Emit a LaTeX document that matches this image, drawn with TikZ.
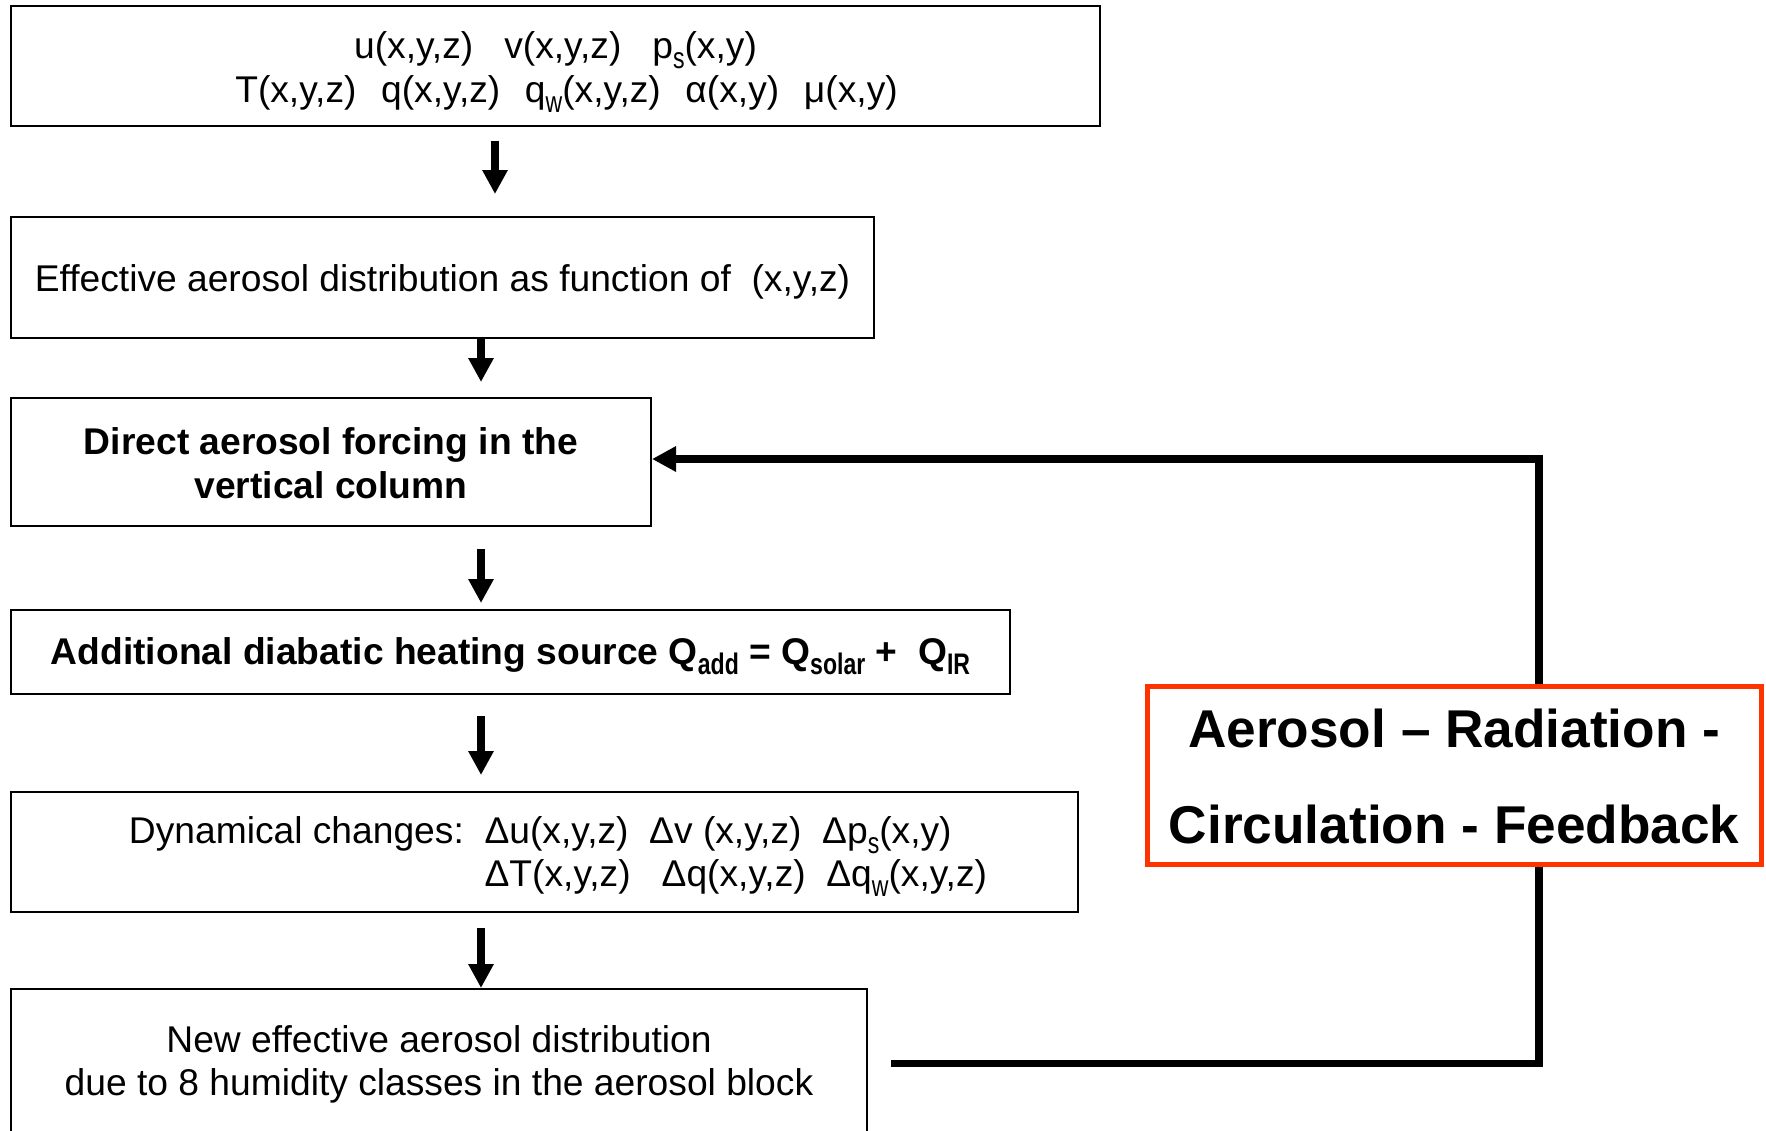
\documentclass[tikz,border=0pt]{standalone}
\usepackage{fontspec}
\setmainfont{Liberation Sans}
\usepackage{xcolor}
\usepackage{graphicx}
\usetikzlibrary{arrows.meta}

\definecolor{loopred}{RGB}{255,51,0}
\newcommand{\subtxt}[1]{\raisebox{-5pt}[0pt][0pt]{\scalebox{0.62}[0.8]{#1}}}
\newcommand{\mainsize}{\fontsize{18.6pt}{21.75pt}\selectfont}
\newcommand{\loopsize}{\fontsize{26.6pt}{48pt}\selectfont}
\newcommand{\gap}{~~\hspace{2pt}}

\begin{document}
\begin{tikzpicture}[
  x=0.5pt, y=-0.5pt,
  box/.style={draw, line width=1pt, fill=white, inner sep=0pt, align=center, font=\mainsize},
  boldbox/.style={box, font=\mainsize\bfseries},
  flow/.style={line width=3.75pt, -{Triangle[width=12pt,length=12pt]}},
  loopbox/.style={draw=loopred, line width=2.5pt, fill=white, inner sep=0pt, align=center, font=\loopsize\bfseries},
]
\useasboundingbox (0,0) rectangle (1766,1130);
\clip (0,0) rectangle (1766,1130);

% Boxes
\node[box, minimum width=544.5pt, minimum height=60pt] (inputs) at (555.5,66)
  {\rule{0pt}{18.3pt}u(x,y,z)~~~v(x,y,z)~~~p\subtxt{s}(x,y)\\\hspace*{11pt}T(x,y,z)\gap q(x,y,z)\gap q\subtxt{w}(x,y,z)\gap α(x,y)\gap μ(x,y)};
\node[box, minimum width=431.5pt, minimum height=60.5pt] (effdist) at (442.5,277.5)
  {\rule{0pt}{18pt}Effective aerosol distribution as function of~~(x,y,z)};
\node[boldbox, minimum width=320pt, minimum height=64pt] (direct) at (331,462)
  {\rule{0pt}{14.5pt}Direct aerosol forcing in the\\vertical column};
\node[boldbox, minimum width=499.5pt, minimum height=42pt] (diabatic) at (510.5,652)
  {\rule{0pt}{16.9pt}Additional diabatic heating source Q\subtxt{add} = Q\subtxt{solar} +~~Q\subtxt{IR}};
\node[box, minimum width=533.5pt, minimum height=60pt] (dynamic) at (544.5,852)
  {\hspace*{13.5pt}\begin{tabular}{@{}l@{}l@{}}
    \rule{0pt}{19.7pt}Dynamical changes:~~ & Δu(x,y,z)~~Δv (x,y,z)~~Δp\subtxt{s}(x,y)\\
     & ΔT(x,y,z)~~~Δq(x,y,z)~~Δq\subtxt{w}(x,y,z)
  \end{tabular}};
\node[box, minimum width=428pt, minimum height=74.5pt] (newdist) at (439,1063.5)
  {\rule{0pt}{14.5pt}New effective aerosol distribution\\due to 8 humidity classes in the aerosol block};

% Arrows
\coordinate (colA) at (495,0);
\coordinate (colB) at (481,0);
\foreach \from/\to/\col/\gapa/\gapb in {inputs/effdist/colA/7pt/11pt, effdist/direct/colB/0pt/7.5pt,
  direct/diabatic/colB/11pt/3pt, diabatic/dynamic/colB/10.5pt/8pt, dynamic/newdist/colB/7.5pt/0pt} {
  \draw[flow, shorten <=\gapa, shorten >=\gapb] (\from.south -| \col) -- (\to.north -| \col);
}

% Feedback loop
\coordinate (bend) at (1539,760);
\draw[flow] ([xshift=11.5pt]newdist.east) -| (bend) |- ([yshift=1.5pt]direct.east);

\node[loopbox, minimum width=306.75pt, minimum height=88.75pt] (feedback) at (1454.25,775.25)
  {\rule{0pt}{20.5pt}Aerosol – Radiation -\\Circulation - Feedback};
\end{tikzpicture}
\end{document}
